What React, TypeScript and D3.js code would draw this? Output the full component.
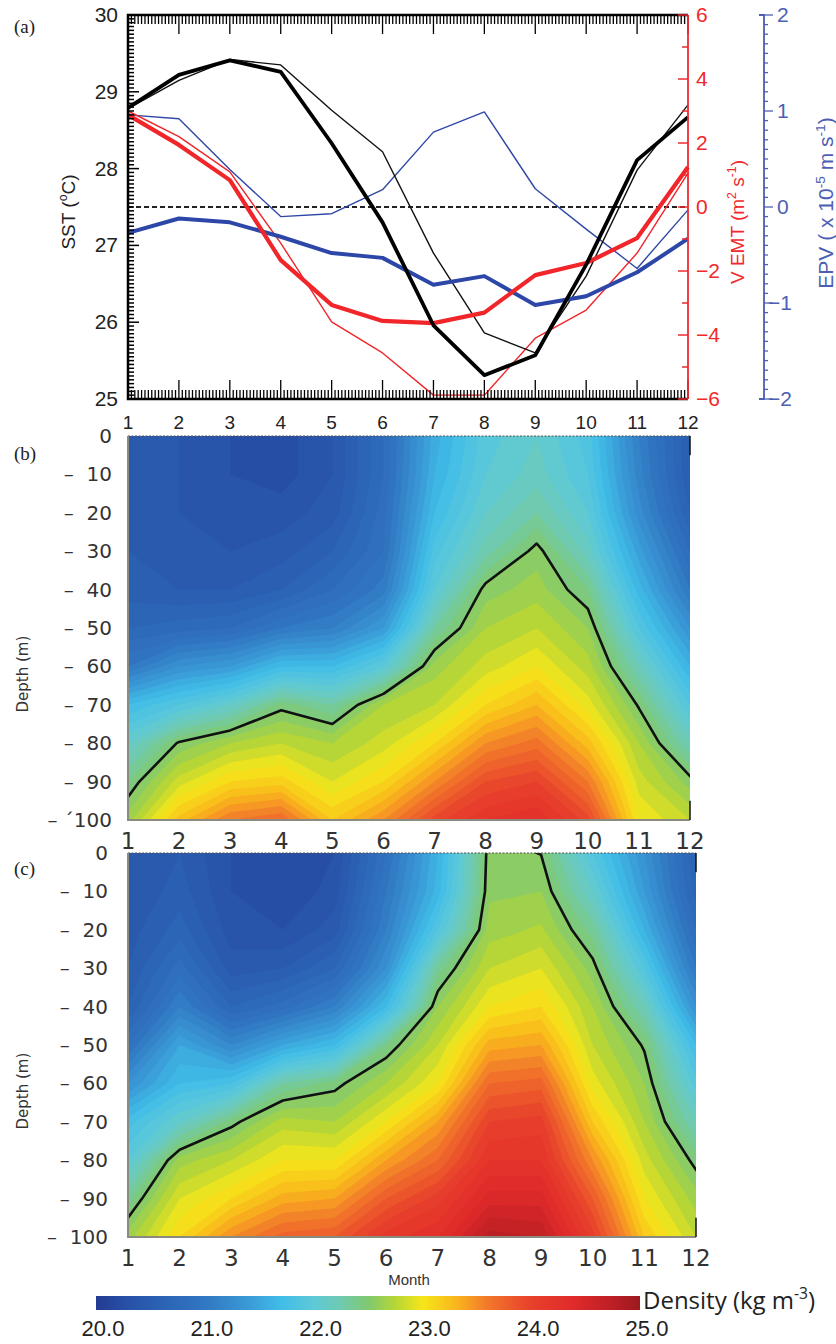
import { useEffect, useRef } from 'react';
import * as d3 from 'd3';

// ---- panel (a) series, read per month ----
const months = [1, 2, 3, 4, 5, 6, 7, 8, 9, 10, 11, 12];
const sstThick = [28.79, 29.22, 29.41, 29.26, 28.33, 27.3, 25.96, 25.31, 25.57, 26.75, 28.11, 28.67];
const sstThin = [28.78, 29.15, 29.42, 29.35, 28.76, 28.22, 26.9, 25.86, 25.6, 26.6, 27.98, 28.83];
const vemtThick = [2.88, 1.94, 0.84, -1.66, -3.06, -3.56, -3.63, -3.3, -2.13, -1.75, -0.97, 1.25];
const vemtThin = [3.0, 2.2, 1.1, -1.13, -3.59, -4.56, -5.88, -5.88, -4.1, -3.22, -1.44, 1.06];
const epvThick = [-0.27, -0.12, -0.16, -0.31, -0.48, -0.53, -0.81, -0.72, -1.02, -0.93, -0.68, -0.33];
const epvThin = [0.96, 0.92, 0.39, -0.1, -0.07, 0.18, 0.78, 0.99, 0.19, -0.23, -0.64, -0.03];

const sstTicks = [25, 26, 27, 28, 29, 30];
const vemtTicks = [-6, -4, -2, 0, 2, 4, 6];
const epvTicks = [-2, -1, 0, 1, 2];

// ---- panels (b) and (c): density, rows = depth, columns = month ----
const depths = [0, 10, 20, 30, 40, 50, 60, 70, 80, 90, 100];
const depthLabelsB = ['0', '–\u00a0\u00a010', '–\u00a0\u00a020', '–\u00a0\u00a030', '–\u00a0\u00a040', '–\u00a0\u00a050',
  '–\u00a0\u00a060', '–\u00a0\u00a070', '–\u00a0\u00a080', '–\u00a0\u00a090', '–\u00a0´100'];
const depthLabelsC = ['0', '–\u00a0\u00a010', '–\u00a0\u00a020', '–\u00a0\u00a030', '–\u00a0\u00a040', '–\u00a0\u00a050',
  '–\u00a0\u00a060', '–\u00a0\u00a070', '–\u00a0\u00a080', '–\u00a0\u00a090', '–\u00a0\u00a0100'];

const densityB = [
  [20.45, 20.4, 20.3, 20.25, 20.4, 20.8, 21.55, 21.95, 22.1, 21.85, 21.1, 20.5],
  [20.45, 20.4, 20.3, 20.25, 20.4, 20.8, 21.6, 22.0, 22.15, 21.9, 21.15, 20.5],
  [20.5, 20.4, 20.35, 20.35, 20.45, 20.85, 21.7, 22.1, 22.3, 22.0, 21.25, 20.6],
  [20.5, 20.45, 20.4, 20.45, 20.6, 20.9, 21.85, 22.25, 22.55, 22.15, 21.45, 20.8],
  [20.55, 20.5, 20.5, 20.6, 20.8, 21.05, 22.0, 22.55, 22.65, 22.4, 21.65, 21.0],
  [20.7, 20.75, 20.8, 21.0, 21.1, 21.4, 22.3, 22.7, 22.8, 22.6, 21.9, 21.3],
  [21.0, 21.3, 21.4, 21.7, 21.7, 22.0, 22.65, 22.85, 23.0, 22.75, 22.2, 21.6],
  [21.7, 21.9, 22.1, 22.45, 22.3, 22.7, 22.8, 23.1, 23.3, 22.95, 22.48, 21.9],
  [22.1, 22.52, 22.7, 22.8, 22.7, 22.85, 23.1, 23.5, 23.65, 23.25, 22.7, 22.2],
  [22.4, 22.85, 23.1, 23.15, 22.9, 23.1, 23.5, 23.9, 24.0, 23.6, 22.85, 22.55],
  [22.65, 23.25, 23.6, 23.7, 23.2, 23.5, 23.95, 24.2, 24.3, 23.95, 23.0, 22.8],
];

const densityC = [
  [20.4, 20.5, 20.3, 20.2, 20.3, 20.9, 21.6, 22.56, 22.495, 21.9, 21.3, 20.6],
  [20.4, 20.55, 20.3, 20.2, 20.35, 21.0, 21.65, 22.58, 22.6, 22.1, 21.4, 20.65],
  [20.45, 20.65, 20.35, 20.3, 20.45, 21.1, 21.9, 22.65, 22.72, 22.35, 21.6, 20.8],
  [20.5, 20.85, 20.45, 20.5, 20.7, 21.3, 22.35, 22.8, 22.9, 22.55, 21.9, 21.0],
  [20.6, 21.1, 20.7, 20.85, 21.1, 21.7, 22.6, 23.0, 23.1, 22.7, 22.2, 21.3],
  [20.9, 21.5, 21.2, 21.5, 21.7, 22.4, 22.8, 23.35, 23.4, 22.8, 22.48, 21.7],
  [21.3, 21.7, 21.8, 22.3, 22.45, 22.7, 23.0, 23.7, 23.75, 22.95, 22.6, 21.95],
  [21.75, 22.1, 22.45, 22.75, 22.7, 23.0, 23.4, 24.0, 24.05, 23.2, 22.7, 22.2],
  [22.0, 22.65, 22.8, 23.0, 23.0, 23.4, 23.7, 24.2, 24.2, 23.5, 22.85, 22.45],
  [22.35, 22.9, 23.1, 23.35, 23.4, 23.8, 24.05, 24.45, 24.45, 23.8, 23.0, 22.65],
  [22.65, 23.1, 23.5, 23.75, 23.8, 24.15, 24.3, 24.75, 24.7, 24.05, 23.2, 22.8],
];

const contourLevel = 22.5;
const colorStops = [20.0, 20.3, 20.6, 21.0, 21.4, 21.7, 22.0, 22.25, 22.5, 22.75, 23.0, 23.3, 23.6, 24.0, 24.4, 24.8, 25.0];
const colorHex = ['#223c92', '#2752a8', '#2b62b4', '#3177c2', '#3a9ad6', '#40bde8', '#5ec9d8', '#6fcab0', '#80c970',
  '#b5d636', '#f6e61a', '#f9b81c', '#f2782a', '#e8402c', '#e02a2a', '#b51e24', '#9a1a1e'];
const colorbarTicks = [20, 21, 22, 23, 24, 25];

export default function App() {
  const ref = useRef<SVGSVGElement>(null);

  useEffect(() => {
    if (!ref.current) return;
    const svg = d3.select(ref.current);
    svg.selectAll('*').remove();
    const defs = svg.append('defs');
    const color = d3.scaleLinear<string>().domain(colorStops).range(colorHex).interpolate(d3.interpolateRgb).clamp(true);
    const sans = 'Liberation Sans, Arial, sans-serif';

    // ================= panel (a) =================
    const xA = d3.scaleLinear().domain([1, 12]).range([128, 688]);
    const yS = d3.scaleLinear().domain([25, 30]).range([399, 15]);
    const yV = d3.scaleLinear().domain([-6, 6]).range([399, 15]);
    const yE = d3.scaleLinear().domain([-2, 2]).range([399, 15]);
    const a = svg.append('g');

    // zero line
    a.append('line')
      .attr('x1', xA(1)).attr('x2', xA(12)).attr('y1', yV(0)).attr('y2', yV(0))
      .attr('stroke', '#222').attr('stroke-width', 2).attr('stroke-dasharray', '5,3');

    const line = (ys: d3.ScaleLinear<number, number>) =>
      d3.line<number>().x((_, i) => xA(months[i])).y(d => ys(d));

    const series = [
      { data: epvThin, y: yE, c: '#2f47a6', w: 1.4 },
      { data: vemtThin, y: yV, c: '#f0262a', w: 1.4 },
      { data: sstThin, y: yS, c: '#111', w: 1.4 },
      { data: epvThick, y: yE, c: '#2d47a8', w: 4 },
      { data: vemtThick, y: yV, c: '#f0262a', w: 4.2 },
      { data: sstThick, y: yS, c: '#000', w: 3.8 },
    ];
    series.forEach(s => {
      a.append('path').attr('d', line(s.y)(s.data)).attr('fill', 'none')
        .attr('stroke', s.c).attr('stroke-width', s.w).attr('stroke-linejoin', 'round');
    });

    // frame: top / bottom / left in black
    const minorX = d3.range(0, 11 * 15 + 1).map(i => 1 + i / 15);
    const tickG = a.append('g').attr('stroke', '#000');
    minorX.forEach(m => {
      const major = Math.abs(m - Math.round(m)) < 1e-6;
      const len = major ? 19 : 9;
      tickG.append('line').attr('x1', xA(m)).attr('x2', xA(m)).attr('y1', yS(30)).attr('y2', yS(30) + len).attr('stroke-width', 1.3);
      tickG.append('line').attr('x1', xA(m)).attr('x2', xA(m)).attr('y1', yS(25)).attr('y2', yS(25) - len).attr('stroke-width', 1.3);
    });
    d3.range(0, 101).map(i => 25 + i * 0.05).forEach(v => {
      const major = Math.abs(v - Math.round(v)) < 1e-6;
      tickG.append('line').attr('x1', xA(1)).attr('x2', xA(1) + (major ? 11 : 6))
        .attr('y1', yS(v)).attr('y2', yS(v)).attr('stroke-width', 1.5);
    });
    a.append('path')
      .attr('d', `M${xA(12)},${yS(30)}H${xA(1)}V${yS(25)}H${xA(12)}`)
      .attr('fill', 'none').attr('stroke', '#000').attr('stroke-width', 2.5);

    // red right axis
    const red = '#f2282c';
    a.append('line').attr('x1', xA(12)).attr('x2', xA(12)).attr('y1', yV(6)).attr('y2', yV(-6)).attr('stroke', red).attr('stroke-width', 1.8);
    d3.range(-6, 7).forEach(v => {
      a.append('line').attr('x1', xA(12)).attr('x2', xA(12) - (v % 2 === 0 ? 10 : 6))
        .attr('y1', yV(v)).attr('y2', yV(v)).attr('stroke', red).attr('stroke-width', 1.5);
    });
    a.append('g').selectAll('text').data(vemtTicks).join('text')
      .attr('x', xA(12) + 8).attr('y', d => yV(d) + 7)
      .attr('font-family', sans).attr('font-size', 21).attr('fill', red)
      .text(d => (d < 0 ? '−' : '') + Math.abs(d));

    // blue far-right axis
    const blue = '#4c5fb2';
    const bx = 764;
    a.append('path').attr('d', `M${bx - 5},${yE(2)}H${bx}V${yE(-2)}H${bx - 5}`)
      .attr('fill', 'none').attr('stroke', blue).attr('stroke-width', 1.8);
    d3.range(-20, 21).forEach(i => {
      const v = i / 10;
      a.append('line').attr('x1', bx).attr('x2', bx + (i % 10 === 0 ? 9 : 4))
        .attr('y1', yE(v)).attr('y2', yE(v)).attr('stroke', blue).attr('stroke-width', 1.3);
    });
    a.append('g').selectAll('text').data(epvTicks).join('text')
      .attr('x', d => (d < 0 ? 768 : 777)).attr('y', d => yE(d) + 7)
      .attr('font-family', sans).attr('font-size', 21).attr('fill', blue)
      .text(d => (d < 0 ? '−' : '') + Math.abs(d));

    // left labels
    a.append('g').selectAll('text').data(sstTicks).join('text')
      .attr('x', 118).attr('y', d => yS(d) + 7).attr('text-anchor', 'end')
      .attr('font-family', sans).attr('font-size', 21).attr('fill', '#222').text(d => d);
    // bottom month labels
    a.append('g').selectAll('text').data(months).join('text')
      .attr('x', d => xA(d)).attr('y', 429).attr('text-anchor', 'middle')
      .attr('font-family', sans).attr('font-size', 19).attr('fill', '#222').text(d => d);

    const sup = (t: d3.Selection<SVGTextElement, unknown, null, undefined>, parts: [string, boolean][], fs: number) => {
      let raised = false;
      parts.forEach(([s, up]) => {
        const ts = t.append('tspan').text(s);
        if (up && !raised) { ts.attr('dy', -fs * 0.4).attr('font-size', fs * 0.65); raised = true; }
        else if (up) ts.attr('font-size', fs * 0.65);
        else if (raised) { ts.attr('dy', fs * 0.4); raised = false; }
      });
    };
    const sstLab = a.append('text').attr('transform', 'translate(75,212) rotate(-90)')
      .attr('text-anchor', 'middle').attr('font-family', sans).attr('font-size', 19).attr('fill', '#222');
    sup(sstLab, [['SST (', false], ['o', true], ['C)', false]], 19);
    const vLab = a.append('text').attr('transform', 'translate(744,222) rotate(-90)')
      .attr('text-anchor', 'middle').attr('font-family', sans).attr('font-size', 19).attr('fill', red);
    sup(vLab, [['V EMT  (m', false], ['2', true], [' s', false], ['-1', true], [')', false]], 19);
    const eLab = a.append('text').attr('transform', 'translate(833,203) rotate(-90)')
      .attr('text-anchor', 'middle').attr('font-family', sans).attr('font-size', 21).attr('fill', blue);
    sup(eLab, [['EPV ( x 10', false], ['-5', true], [' m s', false], ['-1', true], [')', false]], 21);

    // ================= panels (b), (c) =================
    const drawDensity = (grid: number[][], x0: number, x1: number, y0: number, labels: string[], labelRight: number, id: string) => {
      const x = d3.scaleLinear().domain([1, 12]).range([x0, x1]);
      const y = d3.scaleLinear().domain([0, 100]).range([y0, y0 + 384]);
      const n = months.length, m = depths.length;
      const gx = d3.scaleLinear().domain([0.5, n - 0.5]).range([months[0], months[n - 1]]);
      const gy = d3.scaleLinear().domain([0.5, m - 0.5]).range([depths[0], depths[m - 1]]);
      const path = d3.geoPath(d3.geoTransform({
        point(px: number, py: number) { (this as any).stream.point(x(gx(px)), y(gy(py))); },
      }));
      defs.append('clipPath').attr('id', id).append('rect')
        .attr('x', x(1)).attr('y', y(0)).attr('width', x(12) - x(1)).attr('height', y(100) - y(0));
      const values = grid.flat();
      const g = svg.append('g');
      const body = g.append('g').attr('clip-path', `url(#${id})`);
      const levels = d3.range(199, 252).map(v => v / 10);
      body.selectAll('path').data(d3.contours().size([n, m]).thresholds(levels)(values)).join('path')
        .attr('d', d => path(d as any)).attr('fill', d => color(d.value + 0.05));
      body.append('path').attr('d', path(d3.contours().size([n, m]).contour(values, contourLevel) as any))
        .attr('fill', 'none').attr('stroke', '#111').attr('stroke-width', 2.6).attr('stroke-linejoin', 'round');

      // frame
      g.append('line').attr('x1', x(1)).attr('x2', x(12)).attr('y1', y(0)).attr('y2', y(0))
        .attr('stroke', '#555').attr('stroke-width', 1.2).attr('stroke-dasharray', '2,1.5');
      g.append('path').attr('d', `M${x(1)},${y(0)}V${y(100)}H${x(12)}`)
        .attr('fill', 'none').attr('stroke', '#8a8a80').attr('stroke-width', 2);
      g.append('line').attr('x1', x(12)).attr('x2', x(12)).attr('y1', y(0)).attr('y2', y(5)).attr('stroke', '#111').attr('stroke-width', 1.5);
      g.append('line').attr('x1', x(12)).attr('x2', x(12)).attr('y1', y(95)).attr('y2', y(100)).attr('stroke', '#111').attr('stroke-width', 1.5);

      g.append('g').selectAll('text').data(depths).join('text')
        .attr('x', labelRight).attr('y', d => y(d) + 7).attr('text-anchor', 'end')
        .attr('font-family', 'DejaVu Sans, sans-serif').attr('font-size', 20).attr('fill', '#333')
        .text((_, i) => labels[i]);
      g.append('g').selectAll('text').data(months).join('text')
        .attr('x', d => x(d)).attr('y', y(100) + 29).attr('text-anchor', 'middle')
        .attr('font-family', 'DejaVu Sans, sans-serif').attr('font-size', 23).attr('fill', '#333').text(d => d);
      g.append('text').attr('transform', `translate(28,${y(62)}) rotate(-90)`).attr('text-anchor', 'middle')
        .attr('font-family', 'DejaVu Sans, sans-serif').attr('font-size', 15).attr('fill', '#333').text('Depth (m)');
    };
    drawDensity(densityB, 128, 690, 436, depthLabelsB, 112, 'clipB');
    drawDensity(densityC, 128, 696, 853, depthLabelsC, 108, 'clipC');

    // panel letters
    [['(a)', 33], ['(b)', 460], ['(c)', 875]].forEach(([t, yy]) => {
      svg.append('text').attr('x', 14).attr('y', yy as number)
        .attr('font-family', 'Liberation Serif, serif').attr('font-size', 19).attr('fill', '#222').text(t as string);
    });

    svg.append('text').attr('x', 409).attr('y', 1285).attr('text-anchor', 'middle')
      .attr('font-family', sans).attr('font-size', 15).attr('fill', '#333').text('Month');

    // ================= colorbar =================
    const cb = d3.scaleLinear().domain([20, 25]).range([96, 640]);
    const grad = defs.append('linearGradient').attr('id', 'cbar').attr('x1', '0%').attr('x2', '100%');
    colorStops.forEach(v => {
      grad.append('stop').attr('offset', `${((v - 20) / 5) * 100}%`).attr('stop-color', color(v));
    });
    svg.append('rect').attr('x', cb(20)).attr('y', 1296).attr('width', cb(25) - cb(20)).attr('height', 14)
      .attr('fill', 'url(#cbar)');
    svg.append('g').selectAll('text').data(colorbarTicks).join('text')
      .attr('x', d => cb(d) + 7).attr('y', 1336).attr('text-anchor', 'middle')
      .attr('font-family', sans).attr('font-size', 22).attr('fill', '#222').text(d => d.toFixed(1));
    const dl = svg.append('text').attr('x', 643).attr('y', 1309)
      .attr('font-family', 'Open Sans, sans-serif').attr('font-size', 24).attr('fill', '#222');
    sup(dl, [['Density (kg m', false], ['-3', true], [')', false]], 24);
  }, []);

  return (
    <svg ref={ref} width={836} height={1344}
      style={{ position: 'absolute', left: 0, top: 0, background: '#fff' }} />
  );
}
